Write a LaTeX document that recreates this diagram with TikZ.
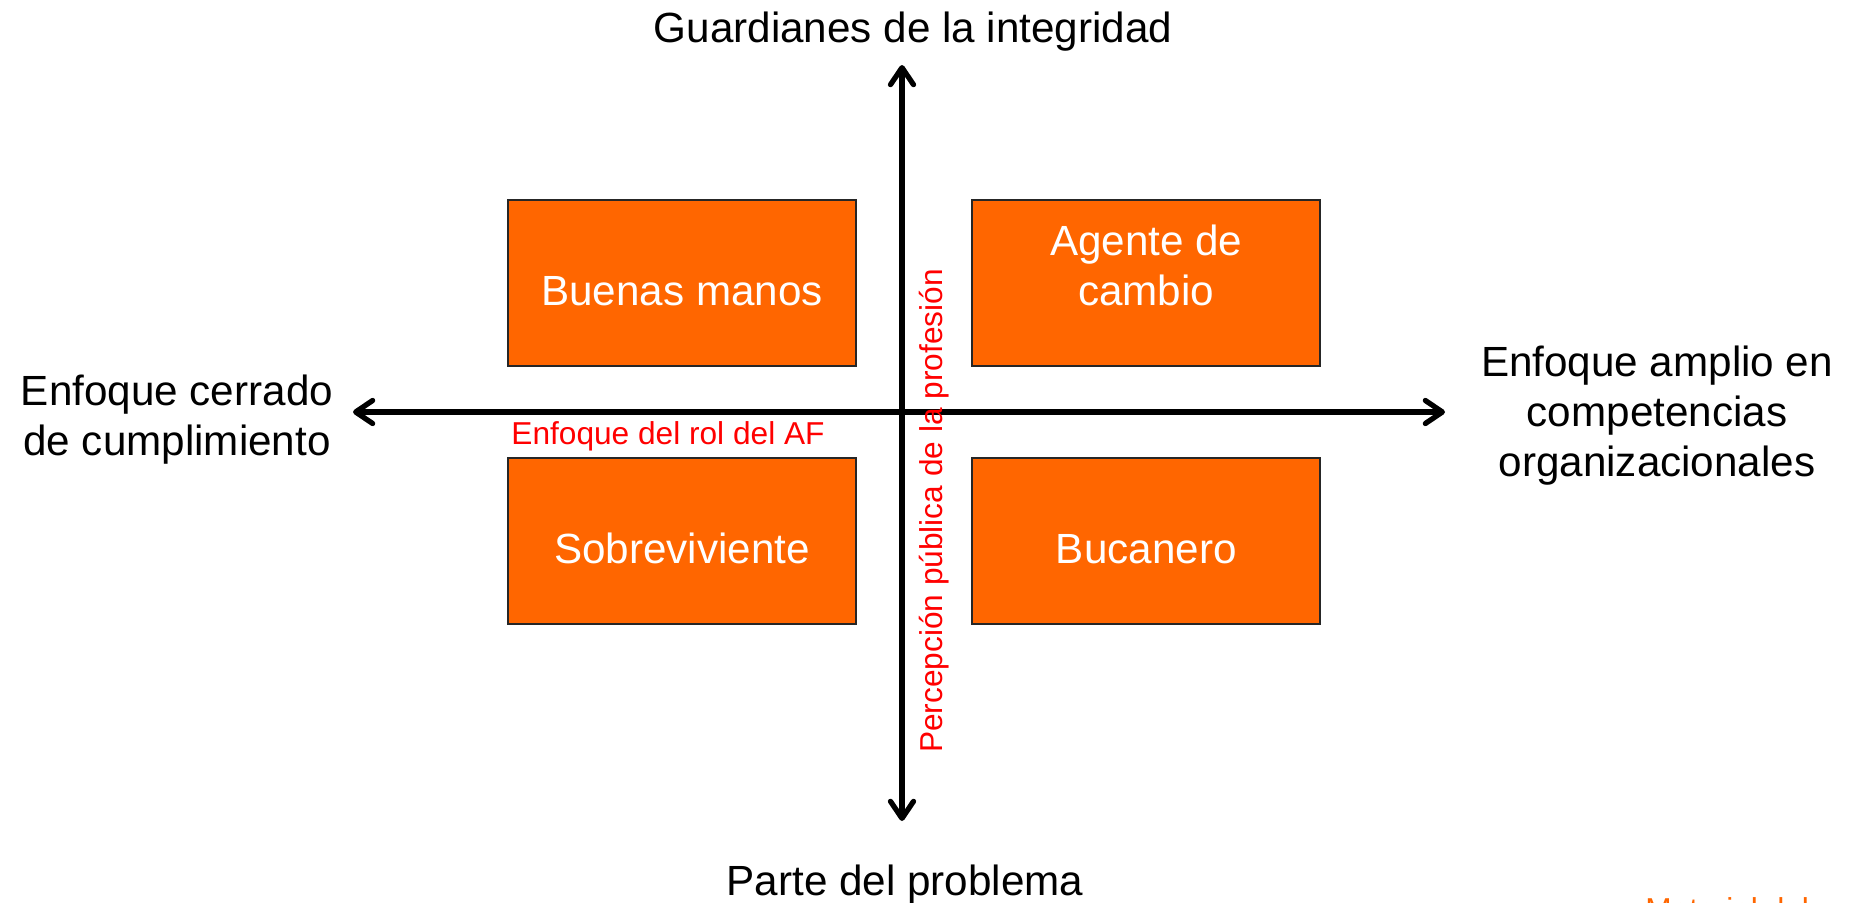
\documentclass[tikz,border=0pt]{standalone}
\usepackage{fontspec}
\setmainfont{Liberation Sans}
\usetikzlibrary{shapes,arrows.meta,positioning}
\definecolor{boxorange}{HTML}{FF6600}
\tikzstyle{block} = [rectangle, draw=black!85, line width=0.6pt, fill=boxorange,
    text=white, align=center, minimum width=3.48cm, minimum height=1.66cm,
    font=\fontsize{12}{14.2}\selectfont]
\tikzstyle{axistext} = [align=center, font=\fontsize{12}{14.2}\selectfont]
\tikzstyle{redtext} = [text=red, font=\fontsize{9}{11}\selectfont]
\tikzstyle{axis} = [line width=1.5pt,
    arrows={Straight Barb[round,length=1.7mm,width=2.3mm]-Straight Barb[round,length=1.7mm,width=2.3mm]}]

\begin{document}
\begin{tikzpicture}[x=0.01cm, y=-0.01cm]
	\useasboundingbox (0,0) rectangle (1854,903);
	\node [block, text height=0.45cm, text depth=0cm] (buenas) at (682,283) {Buenas manos};
	\node [block, right of=buenas, node distance=4.64cm, text depth=0.36cm] (agente) {Agente de\\cambio};
	\node [block, below of=buenas, node distance=2.575cm, text height=0.45cm, text depth=0cm] (sobre) {Sobreviviente};
	\node [block, right of=sobre, node distance=4.64cm, text height=0.45cm, text depth=0cm] (bucanero) {Bucanero};

	\coordinate (top) at (902,65);
	\coordinate (bottom) at (902,821);
	\coordinate (westend) at (353,412);
	\coordinate (eastend) at (1445,412);

        \draw[axis] (bottom) -- (top);
        \draw[axis] (westend) -- (eastend);

	\node [axistext, anchor=base] (guardianes) at (913,42) {Guardianes de la integridad};
	\node [axistext, anchor=base] (parte) at (905,895) {Parte del problema};
	\node [axistext] (cerrado) at (177,420) {Enfoque cerrado\\de cumplimiento};
	\node [axistext] (amplio) at (1657,416) {Enfoque amplio en\\competencias\\organizacionales};
	\node [redtext] (rol) at (668,436) {Enfoque del rol del AF};
	\node [redtext, rotate=90] (percepcion) at (934,511) {Percepción pública de la profesión};
	\node [redtext, text=boxorange, anchor=base west] (material) at (1633,920) {Material del};
\end{tikzpicture}
\end{document}
